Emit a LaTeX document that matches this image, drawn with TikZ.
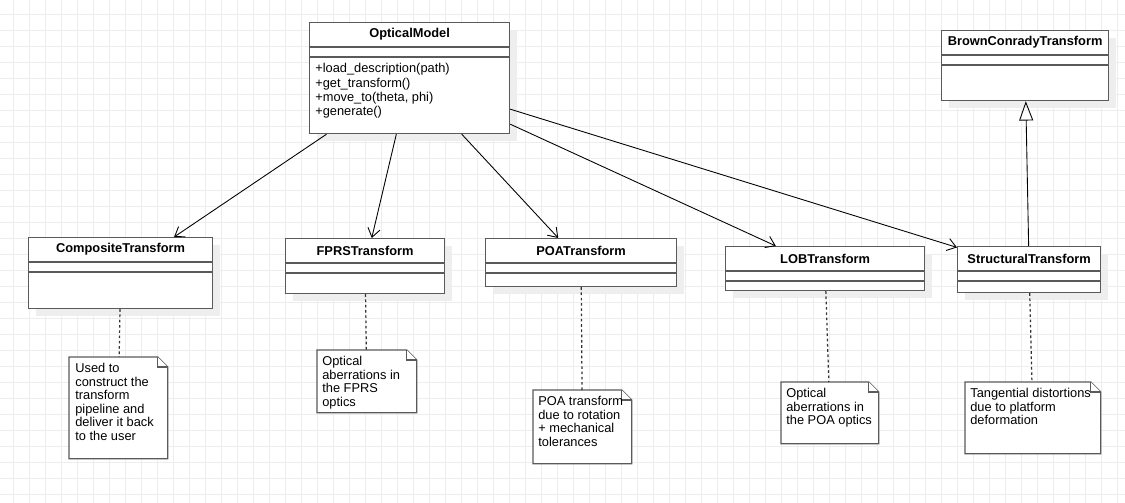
\documentclass[tikz,border=0pt]{standalone}
\usepackage{fontspec}
\setmainfont{Liberation Sans}
\usepackage{tikz}
\usetikzlibrary{arrows.meta, shadows, positioning}
\definecolor{gridgray}{HTML}{EDEDED}
\definecolor{boxgray}{HTML}{5A5A5A}
\definecolor{shadowgray}{HTML}{EEEEEE}
\tikzstyle{gridline} = [draw=gridgray, line width=0.55pt]
\tikzstyle{umlclass} = [rectangle, draw=boxgray, line width=0.7pt, fill=white, inner sep=0pt, anchor=north west, drop shadow={shadow xshift=0.14cm, shadow yshift=-0.14cm, fill=shadowgray, opacity=1}]
\tikzstyle{classname} = [font=\fontsize{7.3}{8}\selectfont\bfseries, inner sep=0pt]
\tikzstyle{compline} = [draw=boxgray, line width=0.7pt]
\tikzstyle{methods} = [font=\fontsize{7.3}{8.2}\selectfont, align=left, inner sep=0pt, anchor=north west]
\tikzstyle{note} = [rectangle, inner sep=0pt, anchor=north west]
\tikzstyle{noteline} = [draw=boxgray, line width=0.7pt, fill=white]
\tikzstyle{notetext} = [font=\fontsize{7.3}{7.7}\selectfont, align=left, inner sep=0pt, anchor=north west]
\tikzstyle{arrow} = [black, line width=0.5pt, -{Straight Barb[length=5pt, width=7pt]}]
\tikzstyle{inherit} = [black, line width=0.5pt, -{Triangle[open, length=11pt, width=8pt]}]
\tikzstyle{notelink} = [black!80, line width=0.7pt, dash pattern=on 1.5pt off 1.5pt]

\begin{document}
\begin{tikzpicture}[x=0.02cm, y=-0.02cm]
\useasboundingbox (0,0) rectangle (1125,503);
%背景网格
\fill [white] (0,0) rectangle (1125,503);
\foreach \gx in {13,29,...,1125} \draw [gridline] (\gx,0) -- (\gx,503);
\foreach \gy in {14,30,...,503} \draw [gridline] (0,\gy) -- (1125,\gy);

%类
\node (om) [umlclass, minimum width=4cm, minimum height=2.22cm] at (309,22) {};
\node (bc) [umlclass, minimum width=3.34cm, minimum height=1.4cm] at (941,30) {};
\node (ct) [umlclass, minimum width=3.68cm, minimum height=1.42cm] at (28,237) {};
\node (ft) [umlclass, minimum width=3.18cm, minimum height=1.1cm] at (285,238) {};
\node (pt) [umlclass, minimum width=3.82cm, minimum height=0.96cm] at (485,238) {};
\node (lt) [umlclass, minimum width=3.98cm, minimum height=0.88cm] at (725,246) {};
\node (st) [umlclass, minimum width=2.86cm, minimum height=0.92cm] at (957,246) {};

%类名与分隔线
\foreach \cls/\title in {om/OpticalModel, bc/BrownConradyTransform, ct/CompositeTransform, ft/FPRSTransform, pt/POATransform, lt/LOBTransform, st/StructuralTransform} {
  \node (\cls-name) [classname] at ([yshift=-0.25cm]\cls.north) {\title};
  \draw [compline] ([yshift=-0.5cm]\cls.north west) -- ([yshift=-0.5cm]\cls.north east);
  \draw [compline] ([yshift=-0.7cm]\cls.north west) -- ([yshift=-0.7cm]\cls.north east);
}
\node (om-ops) [methods] at ([xshift=0.12cm, yshift=-0.82cm]om.north west) {+load\_description(path)\\+get\_transform()\\+move\_to(theta, phi)\\+generate()};

%注释
\node (n1) [note, minimum width=1.96cm, minimum height=2.02cm] at (69,357) {};
\node (n2) [note, minimum width=1.98cm, minimum height=1.24cm] at (317,350) {};
\node (n3) [note, minimum width=1.96cm, minimum height=1.46cm] at (533,390) {};
\node (n4) [note, minimum width=1.94cm, minimum height=1.22cm] at (781,382) {};
\node (n5) [note, minimum width=2.7cm, minimum height=1.42cm] at (965,382) {};
\foreach \nt in {n1,n2,n3,n4,n5} {
  \draw [noteline] (\nt.north west) -- ([xshift=-0.2cm]\nt.north east) -- ([yshift=-0.2cm]\nt.north east) -- (\nt.south east) -- (\nt.south west) -- cycle;
  \draw [noteline] ([xshift=-0.2cm]\nt.north east) |- ([yshift=-0.2cm]\nt.north east);
}
\node (n1-text) [notetext] at ([xshift=0.12cm, yshift=-0.12cm]n1.north west) {Used to\\construct the\\transform\\pipeline and\\deliver it back\\to the user};
\node (n2-text) [notetext] at ([xshift=0.1cm, yshift=-0.12cm]n2.north west) {Optical\\aberrations in\\the FPRS\\optics};
\node (n3-text) [notetext] at ([xshift=0.1cm, yshift=-0.12cm]n3.north west) {POA transform\\due to rotation\\+ mechanical\\tolerances};
\node (n4-text) [notetext] at ([xshift=0.1cm, yshift=-0.12cm]n4.north west) {Optical\\aberrations in\\the POA optics};
\node (n5-text) [notetext] at ([xshift=0.1cm, yshift=-0.12cm]n5.north west) {Tangential distortions\\due to platform\\deformation};

%连线
\draw [arrow] (om) -- (ct);
\draw [arrow] (om) -- (ft);
\draw [arrow] (om) -- (pt);
\draw [arrow] (om) -- (lt);
\draw [arrow] (om) -- (st);
\draw [inherit] (st) -- (bc);
\draw [notelink] (ct) -- (n1);
\draw [notelink] (ft) -- (n2);
\draw [notelink] (pt) -- (n3);
\draw [notelink] (lt) -- (n4);
\draw [notelink] (st) -- (n5);
\end{tikzpicture}
\end{document}
